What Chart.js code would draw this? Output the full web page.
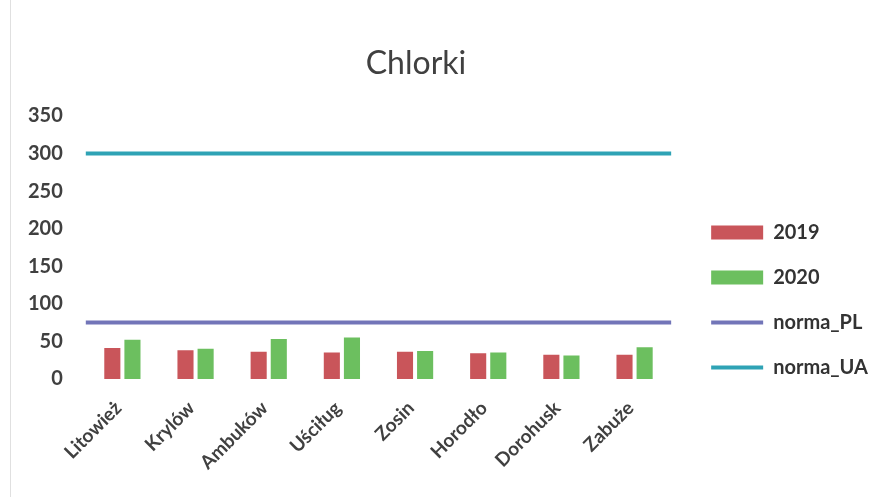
<!DOCTYPE html>
<html>
<head>
<meta charset="utf-8">
<title>Chlorki</title>
<script src="https://cdn.jsdelivr.net/npm/chart.js@4.4.1/dist/chart.umd.min.js"></script>
<style>
    html, body { margin: 0; padding: 0; background: #fff; }
    #wrap { position: relative; width: 886px; height: 497px; overflow: hidden; }
    #edge { position: absolute; left: 10px; top: 0; height: 497px; border-left: 1px solid #e0e0e0; }
    #title {
        position: absolute; left: 316px; top: 44px; width: 200px;
        text-align: center; font: 32px Lato, sans-serif; line-height: 36px; color: #404040;
    }
    canvas { position: absolute; left: 0; top: 0; }
</style>
</head>
<body>
<div id="wrap">
    <canvas id="chlorkiChart" width="886" height="497"></canvas>
    <div id="edge"></div>
    <div id="title">Chlorki</div>
</div>
<script>
// ================= Data =================
const categories = ["Litowież", "Krylów", "Ambuków", "Uściług", "Zosin", "Horodło", "Dorohusk", "Zabuże"];
const values2019 = [41, 38, 36, 35, 36, 34, 32, 32];
const values2020 = [52, 40, 53, 55, 37, 35, 31, 42];
const normaPL = [75, 75, 75, 75, 75, 75, 75, 75];
const normaUA = [300, 300, 300, 300, 300, 300, 300, 300];
const yTicks = [0, 50, 100, 150, 200, 250, 300, 350];

// ================= Chart =================
const textColor = "#404040";
const ctx = document.getElementById("chlorkiChart").getContext("2d");

const chlorkiChart = new Chart(ctx, {
    type: "bar",
    data: {
        labels: categories,
        datasets: [
            {
                label: "2019",
                data: values2019,
                indexAxis: "x",
                backgroundColor: "#c9555a",
                borderWidth: 0,
                categoryPercentage: 0.55,
                barPercentage: 0.8,
                pointStyle: "rect"
            },
            {
                label: "2020",
                data: values2020,
                indexAxis: "x",
                backgroundColor: "#6cbf5f",
                borderWidth: 0,
                categoryPercentage: 0.55,
                barPercentage: 0.8,
                pointStyle: "rect"
            },
            {
                type: "line",
                label: "norma_PL",
                data: normaPL,
                indexAxis: "x",
                xAxisID: "xLine",
                borderColor: "#7275b8",
                backgroundColor: "#7275b8",
                borderWidth: 4,
                pointRadius: 0,
                pointStyle: "line"
            },
            {
                type: "line",
                label: "norma_UA",
                data: normaUA,
                indexAxis: "x",
                xAxisID: "xLine",
                borderColor: "#2fa3b5",
                backgroundColor: "#2fa3b5",
                borderWidth: 4,
                pointRadius: 0,
                pointStyle: "line"
            }
        ]
    },
    options: {
        responsive: false,
        animation: false,
        // chart-level "y" keeps the hidden line axis out of the bar grouping;
        // every dataset sets indexAxis "x" itself
        indexAxis: "y",
        layout: {
            padding: { top: 116, left: 13, right: 8, bottom: 13 }
        },
        scales: {
            x: {
                type: "category",
                offset: true,
                grid: { display: false, offset: true },
                border: { display: false },
                ticks: {
                    autoSkip: false,
                    minRotation: 45,
                    maxRotation: 45,
                    padding: 10,
                    labelOffset: -4,
                    color: textColor,
                    font: { family: "Lato", size: 19, weight: "bold" }
                }
            },
            // norm lines run across the whole plot width
            xLine: {
                type: "category",
                labels: categories,
                offset: false,
                display: false
            },
            y: {
                type: "linear",
                min: 0,
                max: 350,
                offset: false,
                grid: { display: false, offset: false },
                border: { display: false },
                afterBuildTicks: axis => {
                    axis.ticks = yTicks.map(v => ({ value: v }));
                },
                ticks: {
                    padding: 15,
                    color: textColor,
                    font: { family: "Lato", size: 20, weight: "bold" }
                }
            },
            // empty strip between plot and legend
            gap: {
                type: "linear",
                position: "right",
                grid: { display: false },
                border: { display: false },
                ticks: { display: false },
                afterFit: axis => { axis.width = 15; }
            }
        },
        plugins: {
            title: { display: false },
            tooltip: { enabled: false },
            legend: {
                position: "right",
                align: "center",
                maxWidth: 240,
                labels: {
                    usePointStyle: true,
                    pointStyleWidth: 52,
                    boxHeight: 14,
                    padding: 25,
                    color: "#333333",
                    font: { family: "Lato", size: 20, weight: "bold" }
                }
            }
        }
    }
});
</script>
</body>
</html>
